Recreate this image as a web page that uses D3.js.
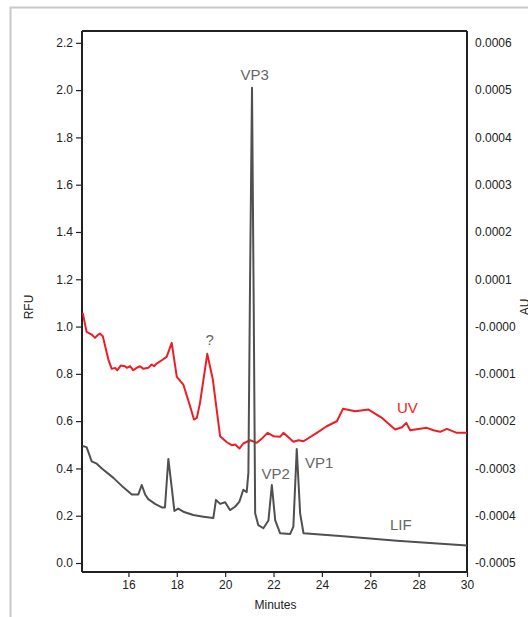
<!DOCTYPE html>
<html>
<head>
<meta charset="utf-8">
<script src="https://cdn.jsdelivr.net/npm/d3@7"></script>
<style>
  html, body { margin: 0; padding: 0; background: #fff; }
  svg { display: block; font-family: "Liberation Sans", Arial, Helvetica, sans-serif; }
</style>
</head>
<body>
<svg id="chart" width="528" height="617"></svg>
<script>
// ---------------- DATA ----------------
const xTicks = [16, 18, 20, 22, 24, 26, 28, 30];
const leftTicks = [0.0, 0.2, 0.4, 0.6, 0.8, 1.0, 1.2, 1.4, 1.6, 1.8, 2.0, 2.2];
const leftTickLabels = ["0.0", "0.2", "0.4", "0.6", "0.8", "1.0", "1.2", "1.4", "1.6", "1.8", "2.0", "2.2"];
const rightTicks = [0.0006, 0.0005, 0.0004, 0.0003, 0.0002, 0.0001, 0, -0.0001, -0.0002, -0.0003, -0.0004, -0.0005];
const rightTickLabels = ["0.0006", "0.0005", "0.0004", "0.0003", "0.0002", "0.0001", "-0.0000", "-0.0001", "-0.0002", "-0.0003", "-0.0004", "-0.0005"];

// LIF trace (RFU, left axis)
const lifTime = [14.10, 14.27, 14.48, 14.69, 14.90, 15.38, 15.79, 16.14, 16.41, 16.55, 16.69, 16.82, 17.10, 17.38, 17.51,
  17.65, 17.79, 17.90, 18.06, 18.27, 18.68, 19.10, 19.51, 19.62, 19.79, 20.00, 20.20, 20.41, 20.59, 20.75, 20.89, 20.96,
  21.03, 21.11, 21.18, 21.24, 21.37, 21.58, 21.79, 21.93, 22.07, 22.27, 22.69, 22.82, 22.96, 23.10, 23.24, 24.75, 27.10, 30.00];
const lifRFU = [0.495, 0.490, 0.430, 0.420, 0.400, 0.360, 0.320, 0.290, 0.290, 0.330, 0.290, 0.270, 0.250, 0.235, 0.235,
  0.440, 0.320, 0.220, 0.230, 0.217, 0.203, 0.196, 0.190, 0.267, 0.250, 0.257, 0.224, 0.238, 0.260, 0.310, 0.300, 0.380,
  1.200, 2.010, 1.100, 0.210, 0.160, 0.147, 0.180, 0.330, 0.180, 0.126, 0.123, 0.154, 0.482, 0.210, 0.126, 0.114, 0.094, 0.074];

// UV trace (AU, right axis)
const uvTime = [14.11, 14.27, 14.48, 14.62, 14.71, 14.82, 14.94, 15.17, 15.31, 15.45, 15.54, 15.68, 15.86, 15.93, 16.07,
  16.20, 16.34, 16.48, 16.62, 16.82, 16.96, 17.06, 17.17, 17.38, 17.58, 17.79, 18.00, 18.27, 18.55, 18.71, 18.83, 18.96,
  19.26, 19.49, 19.79, 20.07, 20.27, 20.41, 20.59, 20.75, 21.03, 21.31, 21.51, 21.75, 22.00, 22.27, 22.41, 22.82, 23.03,
  23.24, 23.79, 24.20, 24.62, 24.87, 25.38, 25.93, 26.48, 26.71, 27.03, 27.31, 27.49, 27.65, 28.06, 28.34, 28.61, 28.89,
  29.17, 29.58, 30.00];
const uvAU = [0.0000290, -0.0000112, -0.0000169, -0.0000239, -0.0000190, -0.0000148, -0.0000205, -0.0000698, -0.0000894,
  -0.0000873, -0.0000924, -0.0000825, -0.0000839, -0.0000873, -0.0000839, -0.0000924, -0.0000873, -0.0000839, -0.0000894,
  -0.0000873, -0.0000803, -0.0000839, -0.0000782, -0.0000712, -0.0000641, -0.0000345, -0.0001063, -0.0001226, -0.0001685,
  -0.0001966, -0.0001930, -0.0001613, -0.0000577, -0.0001120, -0.0002319, -0.0002446, -0.0002509, -0.0002495, -0.0002579,
  -0.0002473, -0.0002404, -0.0002459, -0.0002374, -0.0002247, -0.0002319, -0.0002332, -0.0002247, -0.0002437, -0.0002404,
  -0.0002425, -0.0002247, -0.0002108, -0.0002002, -0.0001740, -0.0001791, -0.0001755, -0.0001930, -0.0002036, -0.0002177,
  -0.0002129, -0.0002036, -0.0002192, -0.0002163, -0.0002142, -0.0002192, -0.0002226, -0.0002163, -0.0002247, -0.0002247];

// Peak annotations
const peakLabels = ["VP3", "VP2", "VP1", "?"];
const peakTimes = [21.11, 21.93, 22.96, 19.26];

// ---------------- CHART ----------------
const svg = d3.select("#chart");
const margin = { left: 82, right: 61, top: 31, bottom: 45 };
const W = 528, H = 617;
const x0 = margin.left, x1 = W - margin.right, y0 = margin.top, y1 = H - margin.bottom;

const x = d3.scaleLinear().domain([14.08, 30]).range([x0, x1]);
const yL = d3.scaleLinear().domain([-0.038, 2.25]).range([y1, y0]);
const yR = d3.scaleLinear().domain([-0.000519, 0.000625]).range([y1, y0]);

// outer light frame
svg.append("rect").attr("x", 10.5).attr("y", 7.5).attr("width", 700).attr("height", 800)
  .attr("fill", "none").attr("stroke", "#c8c8c8").attr("stroke-width", 2);

const axisColor = "#222";
const tickFont = "12px";

// left axis
const gL = svg.append("g").attr("transform", `translate(${x0},0)`)
  .call(d3.axisLeft(yL).tickValues(leftTicks).tickSize(6).tickPadding(3)
    .tickFormat((d, i) => leftTickLabels[i]));
// right axis
const gR = svg.append("g").attr("transform", `translate(${x1},0)`)
  .call(d3.axisRight(yR).tickValues(rightTicks).tickSize(0).tickPadding(8)
    .tickFormat((d, i) => rightTickLabels[i]));
// bottom axis
const gB = svg.append("g").attr("transform", `translate(0,${y1})`)
  .call(d3.axisBottom(x).tickValues(xTicks).tickSize(5).tickPadding(3).tickFormat(d3.format("d")));

[gL, gR, gB].forEach(g => {
  g.select(".domain").remove();
  g.selectAll("line").attr("stroke", axisColor).attr("stroke-width", 1.2);
  g.selectAll("text").attr("fill", "#222").style("font-size", tickFont)
    .style("font-family", '"Liberation Sans", Arial, sans-serif');
});

// frame lines
svg.append("path")
  .attr("d", `M${x0},${y0} L${x1},${y0} M${x1},${y0} L${x1},${y1} M${x0},${y0} L${x0},${y1} M${x0},${y1} L${x1},${y1}`)
  .attr("stroke", axisColor).attr("stroke-width", 2).attr("fill", "none");

// axis titles
svg.append("text").attr("transform", `translate(33,307) rotate(-90)`)
  .attr("text-anchor", "middle").style("font-size", "12px").attr("fill", "#222").text("RFU");
svg.append("text").attr("transform", `translate(529,307) rotate(-90)`)
  .attr("text-anchor", "middle").style("font-size", "12px").attr("fill", "#222").text("AU");
svg.append("text").attr("x", (x0 + x1) / 2 + 1).attr("y", 609)
  .attr("text-anchor", "middle").style("font-size", "12px").attr("fill", "#222").text("Minutes");

// clip
svg.append("clipPath").attr("id", "clip").append("rect")
  .attr("x", x0).attr("y", y0).attr("width", x1 - x0).attr("height", y1 - y0);

const plot = svg.append("g").attr("clip-path", "url(#clip)");

const lifData = lifTime.map((t, i) => [t, lifRFU[i]]);
const uvData = uvTime.map((t, i) => [t, uvAU[i]]);

plot.append("path").datum(uvData)
  .attr("d", d3.line().x(d => x(d[0])).y(d => yR(d[1])))
  .attr("fill", "none").attr("stroke", "#ee1d25").attr("stroke-width", 2).attr("stroke-linejoin", "round");

plot.append("path").datum(lifData)
  .attr("d", d3.line().x(d => x(d[0])).y(d => yL(d[1])))
  .attr("fill", "none").attr("stroke", "#505050").attr("stroke-width", 2).attr("stroke-linejoin", "round");

// labels
const labelColor = "#666";
const labelPos = [[0.11, 2.043], [0.16, 0.355], [0.34, 0.40], [0.1, 0.922]]; // offsets in minutes / RFU
peakLabels.forEach((lab, i) => {
  svg.append("text")
    .attr("x", x(peakTimes[i] + labelPos[i][0]))
    .attr("y", yL(labelPos[i][1]))
    .attr("text-anchor", i === 2 ? "start" : "middle")
    .style("font-size", "15px").attr("fill", labelColor).text(lab);
});
svg.append("text").attr("x", 397).attr("y", 413).style("font-size", "15px").attr("fill", "#ee1d25").text("UV");
svg.append("text").attr("x", 390).attr("y", 530).style("font-size", "15px").attr("fill", labelColor).text("LIF");
</script>
</body>
</html>
